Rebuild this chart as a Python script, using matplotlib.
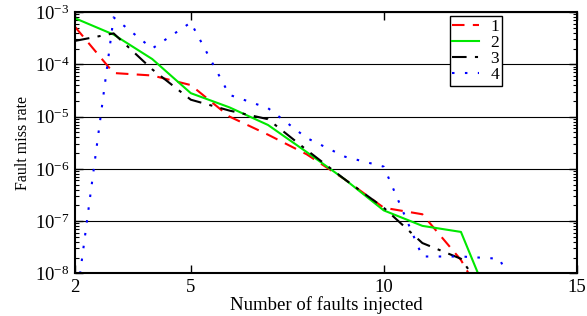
import matplotlib
matplotlib.use("Agg")
import matplotlib.pyplot as plt
from matplotlib.ticker import LogLocator, LogFormatterSciNotation, NullFormatter, FixedLocator

plt.rcParams['font.family'] = ['Liberation Serif', 'DejaVu Serif']
plt.rcParams['mathtext.fontset'] = 'stix'

x_main = [2, 3, 4, 5, 6, 7, 8, 9, 10, 11, 12, 13]
x_blue = [2, 3, 4, 5, 6, 7, 8, 9, 10, 11, 12, 13, 14]
series1 = [5.2e-4, 6.8e-5, 6.1e-5, 4.0e-5, 1.0e-5, 4.5e-6, 1.9e-6, 6.2e-7, 1.8e-7, 1.35e-7, 1.8e-8, 9e-10]
series2 = [7.6e-4, 3.7e-4, 1.26e-4, 2.8e-5, 1.5e-5, 6.9e-6, 2.1e-6, 6.2e-7, 1.6e-7, 8.1e-8, 6.2e-8, 1e-9]
series3 = [2.8e-4, 3.9e-4, 8.0e-5, 2.1e-5, 1.3e-5, 8.9e-6, 2.3e-6, 6.2e-7, 1.8e-7, 3.8e-8, 1.9e-8, 1.7e-9]
series4 = [1.8e-9, 7.9e-4, 2.0e-4, 6.3e-4, 2.6e-5, 1.45e-5, 3.9e-6, 1.7e-6, 1.1e-6, 2.1e-8, 2.1e-8, 1.9e-8, 5e-10]
labels = ["1", "2", "3", "4"]
x_ticks = [2, 5, 10, 15]

fig = plt.figure(figsize=(5.87, 3.16), dpi=100)
ax = fig.add_axes([0.1278, 0.135, 0.8547, 0.827])

ax.plot(x_main, series1, color='#ff0000', lw=1.5, dashes=(6, 4), label=labels[0])
ax.plot(x_main, series2, color='#00e800', lw=1.5, linestyle='-', label=labels[1])
ax.plot(x_main, series3, color='black', lw=1.5, dashes=(7, 4, 1.5, 4), label=labels[2])
ax.plot(x_blue, series4, color='#0000ff', lw=1.5, dashes=(1.2, 5), label=labels[3])

ax.set_yscale('log')
ax.set_xlim(2, 15)
ax.set_ylim(1e-8, 1e-3)

ax.xaxis.set_major_locator(FixedLocator(x_ticks))
ax.set_xticklabels([str(t) for t in x_ticks])
ax.yaxis.set_major_locator(LogLocator(base=10, numticks=10))
ax.yaxis.set_major_formatter(LogFormatterSciNotation())
ax.yaxis.set_minor_locator(LogLocator(base=10, subs=range(2, 10), numticks=20))
ax.yaxis.set_minor_formatter(NullFormatter())

ax.tick_params(axis='both', which='major', direction='in', length=6, width=1,
               top=True, right=True, labelsize=13.5, pad=4)
ax.tick_params(axis='y', which='minor', direction='in', length=3, width=0.8,
               left=True, right=True)
ax.grid(True, axis='y', which='major', color='black', lw=0.8)
for s in ax.spines.values():
    s.set_linewidth(1.5)

ax.set_xlabel("Number of faults injected", fontsize=13.5, labelpad=0)
ax.set_ylabel("Fault miss rate", fontsize=11.5, labelpad=3)

leg = ax.legend(loc='upper left', bbox_to_anchor=(0.747, 0.985), fontsize=12.5,
                frameon=True, fancybox=False, edgecolor='black', framealpha=1,
                handlelength=1.55, handletextpad=0.65, borderpad=0.15, labelspacing=0.0,
                borderaxespad=0)
leg.get_frame().set_linewidth(1.0)

fig.savefig("out.png", dpi=100)
